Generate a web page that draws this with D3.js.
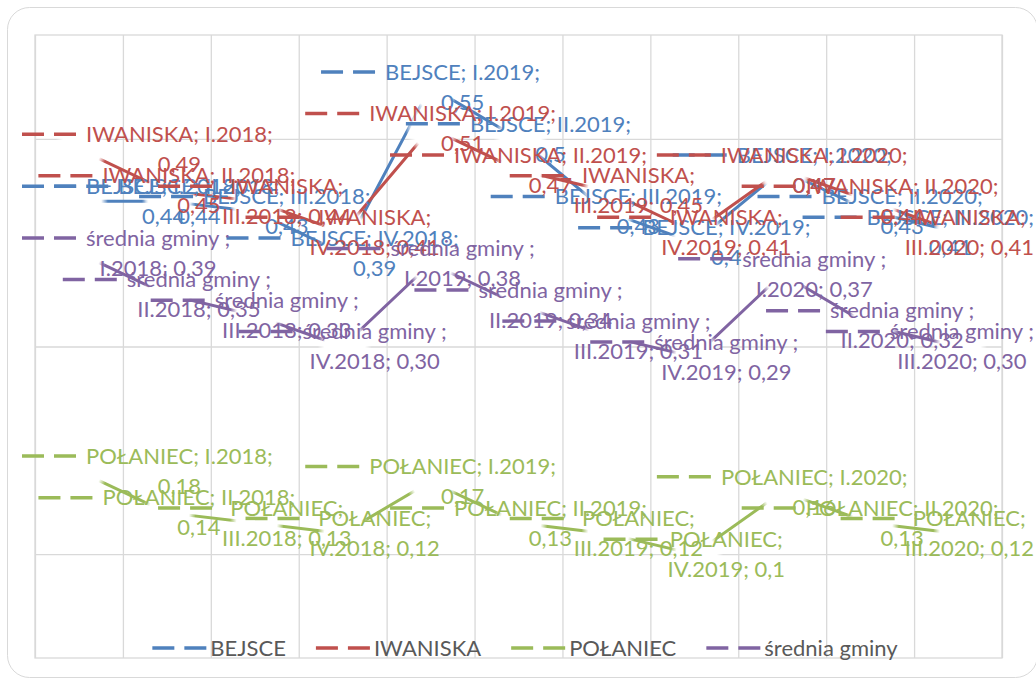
<!DOCTYPE html>
<html>
<head>
<meta charset="utf-8">
<script src="https://cdn.jsdelivr.net/npm/d3@7"></script>
<style>
  body { margin: 0; background: #fff; }
  svg { display: block; font-family: Lato, 'Noto Sans', sans-serif; }
  .grid line { stroke: #d9d9d9; stroke-width: 1.3; }
  .grid path { display: none; }
</style>
</head>
<body>
<svg id="chart"></svg>
<script>
const quarters = ['I.2018', 'II.2018', 'III.2018', 'IV.2018', 'I.2019', 'II.2019',
    'III.2019', 'IV.2019', 'I.2020', 'II.2020', 'III.2020'];
const seriesNames = ['BEJSCE', 'IWANISKA', 'POŁANIEC', 'średnia gminy '];
const bejsce = [0.44, 0.44, 0.43, 0.39, 0.55, 0.5, 0.43, 0.4, 0.47, 0.43, 0.41];
const iwaniska = [0.49, 0.45, 0.44, 0.41, 0.51, 0.47, 0.45, 0.41, 0.47, 0.44, 0.41];
const polaniec = [0.18, 0.14, 0.13, 0.12, 0.17, 0.13, 0.12, 0.1, 0.16, 0.13, 0.12];
const srednia = [0.39, 0.35, 0.33, 0.30, 0.38, 0.34, 0.31, 0.29, 0.37, 0.32, 0.30];
const yGridValues = [0.1, 0.3, 0.5];

const seriesValues = [bejsce, iwaniska, polaniec, srednia];
const seriesColors = ['#4f81bd', '#c0504d', '#9bbb59', '#8064a2'];
const valueFormats = ['~g', '~g', '~g', '.2f'];

const chartSize = { width: 1036, height: 682 };
const plot = { left: 35, right: 1002, top: 35, bottom: 658 };
const fontSize = 22;
const lineGap = 30;
const keyWidth = 54;
const keyGap = 10;
const wrapWidth = 199;
const labelBounds = { min: 22, max: 1034 };

const drawChart = () => {
    const svg = d3.select('#chart')
        .attr('width', chartSize.width)
        .attr('height', chartSize.height);

    svg.append('rect')
        .attr('x', 7.5).attr('y', 7.5)
        .attr('width', 1030).attr('height', 670)
        .attr('rx', 22)
        .attr('fill', '#fff')
        .attr('stroke', '#d9d9d9');

    const x = d3.scaleBand()
        .domain(quarters)
        .range([plot.left, plot.right]);
    const xEdges = d3.scaleLinear()
        .domain([0, quarters.length])
        .range([plot.left, plot.right]);
    const y = d3.scaleLinear()
        .domain([0, 0.6])
        .range([plot.bottom, plot.top]);
    const cx = q => x(q) + x.bandwidth() / 2;

    svg.append('g')
        .attr('class', 'grid')
        .attr('transform', `translate(0,${plot.bottom})`)
        .call(d3.axisBottom(xEdges).ticks(quarters.length).tickSize(-(plot.bottom - plot.top)).tickFormat(''));
    svg.append('g')
        .attr('class', 'grid')
        .attr('transform', `translate(${plot.left},0)`)
        .call(d3.axisLeft(y).tickValues(yGridValues).tickSize(-(plot.right - plot.left)).tickFormat(''));
    svg.append('rect')
        .attr('x', plot.left).attr('y', plot.top)
        .attr('width', plot.right - plot.left).attr('height', plot.bottom - plot.top)
        .attr('fill', 'none')
        .attr('stroke', '#d9d9d9')
        .attr('stroke-width', 1.3);

    const series = seriesNames.map((name, i) => ({
        name: name,
        color: seriesColors[i],
        fmt: d3.format(valueFormats[i]),
        points: quarters.map((q, j) => ({ q: q, v: seriesValues[i][j] }))
    }));

    const line = d3.line()
        .x(p => cx(p.q))
        .y(p => y(p.v));

    svg.append('g').selectAll('path')
        .data(series)
        .join('path')
        .attr('d', s => line(s.points))
        .attr('fill', 'none')
        .attr('stroke', s => s.color)
        .attr('stroke-width', 3);

    const defs = svg.append('defs');
    const glow = defs.append('radialGradient').attr('id', 'blank');
    glow.append('stop').attr('offset', '0.75').attr('stop-color', '#fff').attr('stop-opacity', 1);
    glow.append('stop').attr('offset', '1').attr('stop-color', '#fff').attr('stop-opacity', 0);

    svg.append('g').selectAll('g')
        .data(series)
        .join('g')
        .selectAll('circle')
        .data(s => s.points)
        .join('circle')
        .attr('cx', p => cx(p.q) + 2)
        .attr('cy', p => y(p.v))
        .attr('r', 27)
        .attr('fill', 'url(#blank)');

    const probe = svg.append('text').attr('font-size', fontSize);
    const measure = t => probe.text(t).node().getComputedTextLength();

    const labels = svg.append('g');
    series.forEach(s => {
        s.points.forEach(p => {
            const value = s.fmt(p.v).replace('.', ',');
            const head = `${s.name}; ${p.q};`;
            const lines = measure(head) <= wrapWidth
                ? [head, value]
                : [`${s.name};`, `${p.q}; ${value}`];
            const textWidth = d3.max(lines, measure);
            const blockWidth = keyWidth + keyGap + textWidth;
            let left = cx(p.q) - blockWidth / 2;
            left = Math.max(labelBounds.min, Math.min(labelBounds.max - blockWidth, left));
            const py = y(p.v);
            const g = labels.append('g').attr('fill', s.color).attr('font-size', fontSize);

            g.append('line')
                .attr('x1', left).attr('x2', left + keyWidth)
                .attr('y1', py - lineGap / 2).attr('y2', py - lineGap / 2)
                .attr('stroke', s.color)
                .attr('stroke-width', 3.5)
                .attr('stroke-dasharray', '22,10');

            g.selectAll('text')
                .data(lines)
                .join('text')
                .attr('x', left + keyWidth + keyGap + textWidth / 2)
                .attr('y', (d, i) => py + (i - 0.5) * lineGap)
                .attr('dy', '0.35em')
                .attr('text-anchor', 'middle')
                .text(d => d);
        });
    });

    const legendItems = series.map(s => ({ name: s.name.trim(), color: s.color, w: measure(s.name.trim()) }));
    const itemGap = 30;
    const legendWidth = d3.sum(legendItems, d => keyWidth + 4 + d.w) + itemGap * (legendItems.length - 1);
    let lx = 525 - legendWidth / 2;
    const legend = svg.append('g').attr('font-size', fontSize);
    legendItems.forEach(d => {
        legend.append('line')
            .attr('x1', lx).attr('x2', lx + keyWidth)
            .attr('y1', 648).attr('y2', 648)
            .attr('stroke', d.color)
            .attr('stroke-width', 3.5)
            .attr('stroke-dasharray', '22,10');
        legend.append('text')
            .attr('x', lx + keyWidth + 4)
            .attr('y', 648)
            .attr('dy', '0.35em')
            .attr('fill', '#595959')
            .text(d.name);
        lx += keyWidth + 4 + d.w + itemGap;
    });
    probe.remove();
};

const main = () => {
    document.fonts.ready.then(drawChart);
};

window.onload = main;
</script>
</body>
</html>
